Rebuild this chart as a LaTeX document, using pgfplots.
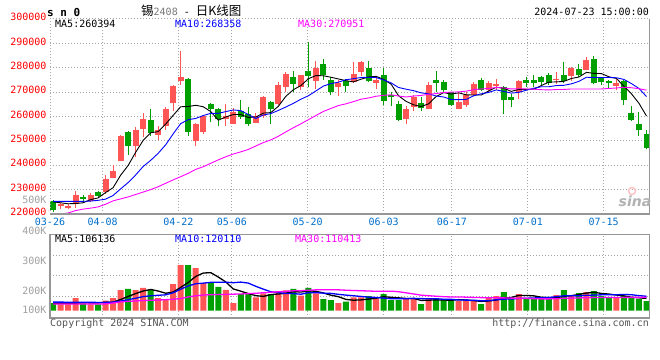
\documentclass[border=0pt]{standalone}
\usepackage{pgfplots}
\pgfplotsset{compat=1.18}
\usepackage{pgfplotstable}
\usepackage{fontspec}
\newfontfamily\mono{DejaVu Sans Mono}
\newfontfamily\cjk{Noto Sans CJK SC}
\newfontfamily\dvs{DejaVu Sans}
\newcommand\mf{\mono\fontsize{10bp}{12bp}\selectfont}

\definecolor{cred}{RGB}{255,85,85}
\definecolor{cgreen}{RGB}{0,160,0}
\definecolor{tickred}{RGB}{255,0,0}
\definecolor{dateblue}{RGB}{0,112,204}
\definecolor{gridc}{RGB}{165,165,165}
\definecolor{framec}{RGB}{150,150,150}
\definecolor{volgray}{RGB}{160,160,160}
\definecolor{ma10c}{RGB}{0,0,255}
\definecolor{ma30c}{RGB}{255,0,255}
\definecolor{copyc}{RGB}{85,85,85}
\definecolor{titlegray}{RGB}{120,120,120}

% up (red) candles: index open high low close
\pgfplotstableread{
i o h l c
1 223300 224500 222200 224000
2 222600 224100 222000 223400
3 224000 229400 222500 227900
5 225500 228700 225000 227900
7 229000 235800 228300 234500
8 234900 239900 234900 237700
9 241600 252500 241600 252200
11 248100 255600 243300 254500
12 254900 261500 251500 259000
14 252600 256300 250200 254500
15 256300 263800 254300 263100
16 265400 273100 262400 272700
17 274400 287000 273100 276400
19 249800 257200 247700 257000
20 253600 260300 252900 260100
23 258800 265200 256000 260400
24 257000 263400 257000 262000
27 257400 261400 257200 260000
28 260100 268400 259300 268200
30 265200 274000 264800 273000
31 272000 278100 269900 277400
33 272000 277200 270900 277000
35 274700 282900 271300 279800
38 272300 275000 268600 273600
40 274000 282200 273800 277400
41 278400 282700 276800 282500
43 273600 276100 271300 275100
47 259000 264500 257000 263100
48 263800 268900 262400 267900
50 263100 274300 262900 273000
54 263100 269900 262900 265900
55 264800 270200 263800 268900
56 268900 274300 268600 273400
58 270900 274700 270200 273600
59 272700 275400 271000 273400
62 269900 274900 267200 274700
67 275000 278400 273400 275400
69 276800 280500 274700 279900
71 279200 284500 279000 283200
75 272700 275400 271000 273800
}\upc

% down (green) candles
\pgfplotstableread{
i o h l c
0 225300 225900 220800 221500
4 227000 227900 224800 226300
6 229000 229300 227000 227400
10 253600 254000 244000 247700
13 258600 262900 252200 253200
18 275400 275600 252200 253800
21 265200 265400 257700 262900
22 262900 263400 256000 258800
25 262200 266800 259100 259700
26 261100 263800 256300 257000
29 265900 266500 257000 262900
32 276100 278800 270200 273400
34 278500 290700 272000 276500
36 281500 283600 275000 277000
37 275000 276100 268900 270200
39 274400 275400 270200 272700
42 279900 282900 274000 274700
44 277000 279800 264800 266500
45 268900 270200 264500 267900
46 265200 266500 258000 258400
49 265600 268200 262400 263400
51 275000 278800 270200 273800
52 274000 275000 269900 271000
53 269900 270200 264500 264800
57 275000 275700 270600 270900
60 272000 272700 261100 266900
61 268200 269300 264100 266900
63 275000 276400 272000 273800
64 275000 277000 272000 273800
65 276400 276800 272700 274300
66 277000 277900 273000 273800
68 277000 282500 273600 274700
70 279500 281500 276100 277200
72 283600 285000 273400 273600
73 275700 276100 273000 274000
74 274700 274900 271300 273600
76 274700 275000 264800 266900
77 261500 264200 258200 258400
78 257000 261800 252200 254500
79 252900 254300 246500 247200
}\downc

% price moving averages
\pgfplotstableread{
i m5 m10 m30
0 225000 225200 219700
1 224600 225200 220000
2 224200 225200 220400
3 224300 225200 221400
4 224600 225200 222000
5 225900 225300 222400
6 226600 225600 222900
7 228800 226100 224000
8 230800 227600 225400
9 235900 230300 226200
10 239900 232900 227000
11 245300 236000 228000
12 250200 239500 229000
13 253300 242000 230000
14 253800 244900 231200
15 256900 248400 232600
16 260500 252900 234000
17 264000 257100 235300
18 264100 258700 236700
19 264600 259200 238300
20 264000 260400 239400
21 262000 261300 240800
22 258500 261300 242200
23 259800 262000 243500
24 260800 262700 244600
25 260800 262400 245500
26 259600 260800 246500
27 259800 259200 247900
28 261400 260600 249300
29 261600 261200 250400
30 264200 262500 251900
31 268300 263900 253700
32 271000 265400 255400
33 272700 267100 257000
34 275500 268500 258700
35 276800 270500 260400
36 276700 272500 262100
37 276100 273500 263300
38 275400 274100 264500
39 274700 275100 265200
40 274200 275500 266100
41 275300 276000 267100
42 276200 276100 267600
43 276500 276000 268300
44 275200 275000 268700
45 273300 273800 268900
46 268500 271900 268400
47 266200 271200 268000
48 264800 270600 268400
49 264100 269700 268650
50 265200 269300 269100
51 268200 268400 269400
52 269800 268000 269850
53 269200 267000 270000
54 269700 266900 270100
55 268900 267000 270400
56 268800 268500 271000
57 268800 269300 271300
58 270500 269900 271500
59 272000 270900 271900
60 271600 270300 271700
61 270300 269600 271300
62 271100 269900 271400
63 271100 270800 271300
64 271200 271600 271200
65 272700 272200 271000
66 274100 272200 270900
67 274200 272700 271050
68 274400 272800 271100
69 275600 273400 271300
70 276200 274400 271300
71 278100 276100 271300
72 277700 276000 271300
73 277600 276000 271300
74 276300 276000 271500
75 275600 275900 271700
76 272400 275200 272000
77 269300 273500 271800
78 265400 271500 271400
79 260200 268200 270800
}\ma

% volumes (thousands), up days
\pgfplotstableread{
i v
1 57
2 57
3 115
5 57
7 91
8 115
9 187
11 187
12 206
14 115
15 97
16 242
17 414
19 387
20 251
23 190
24 69.5
27 121
28 157
30 178
31 184
33 136
35 157
38 69.5
40 121
41 121
43 106
47 106
48 106
50 106
54 88
55 88
56 88
58 115
59 133
62 151
67 142
69 142
71 169
75 115
}\volup

% volumes, down days
\pgfplotstableread{
i v
0 69.5
4 66.5
6 57
10 197
13 187
18 414
21 260
22 215
25 151
26 151
29 151
32 197
34 206
36 106
37 97
39 82
42 133
44 151
45 97
46 97
49 60
51 115
52 97
53 97
57 60
60 169
61 124
63 115
64 115
65 106
66 106
68 187
70 160
72 178
73 133
74 115
76 133
77 115
78 106
79 88
}\voldown

% volume moving averages
\pgfplotstableread{
i m5 m10 m30
0 66 78 60
1 66 78 60
2 66 77 60
3 68 77 60
4 73 76 60
5 70.5 76 60
6 70.5 75 60
7 77.3 75 62
8 77.3 78 70
9 101.4 87.2 80
10 129.4 100 85
11 155.4 113 88
12 178.4 127.9 92
13 192.8 135.1 95
14 178.4 139.9 97
15 158.4 143.9 100
16 169.4 162.4 104
17 211 194.7 110
18 256.4 224.6 125
19 310.8 244.6 135
20 341.6 250 142
21 345.2 257.3 145
22 305.4 258.2 147
23 260.6 258.5 148
24 197.1 254 150
25 177.1 259.4 152
26 155.3 250.3 155
27 136.5 221 158
28 129.9 195.3 163
29 146.2 171.7 167.8
30 151.6 164.4 171.4
31 158.2 156.8 175.7
32 173.4 155 180.3
33 169.2 149.6 181
34 180.2 163.2 185.7
35 176 163.8 189
36 160.4 159.3 190.7
37 140.4 156.9 190.9
38 127.1 148.2 189.3
39 102.3 141.3 185.8
40 95.1 135.6 183.3
41 98.1 129.3 181.1
42 105.3 122.9 178.7
43 112.6 119.9 176
44 126.4 114.4 177.2
45 121.6 108.4 177.2
46 116.8 107.5 172.3
47 111.4 108.4 162.1
48 111.4 112 151.8
49 93.2 109.8 140.9
50 95 108.3 136.1
51 98.6 107.7 131.2
52 96.8 104.1 127.3
53 95 103.2 124.2
54 100.6 96.9 124.8
55 97 96 122.7
56 91.6 95.1 120.6
57 84.2 90.5 118.6
58 87.8 91.4 117.2
59 96.8 98.7 116.6
60 113 105 116.3
61 120.2 105.9 114.3
62 138.4 111.3 112.8
63 138.4 113.1 112.1
64 134.8 115.8 109
65 122.2 117.6 107.3
66 118.6 119.4 107.3
67 116.8 127.6 108.8
68 131.2 134.8 112.7
69 136.6 135.7 114.7
70 147.4 134.8 116
71 160 139.3 117.6
72 167.2 142 119.1
73 156.4 143.8 120
74 151 143.8 118.8
75 142 144.7 119.4
76 134.8 147.4 120.6
77 122.2 144.7 120.9
78 116.8 136.6 120.9
79 111.4 131.2 121.9
}\vma

\pgfplotsset{
  sinaaxis/.style={
    scale only axis, width=599.5bp, anchor=south west,
    xmin=-0.4, xmax=79.4,
    axis line style={draw=none}, major tick length=0pt,
    xtick={-0.4,6.6,16.7,23.8,33.9,44.0,53.1,63.2,73.3},
    xmajorgrids, ymajorgrids,
    grid style={gridc, line width=1bp, dash pattern=on 1bp off 2bp},
  },
  wick/.style={only marks, mark=*, mark size=0pt, mark options={draw=none, fill=none}, forget plot,
    error bars/.cd, y dir=plus, y explicit, error mark=none,
    error bar style={draw=#1, solid, line width=1bp}},
  body/.style={only marks, mark=*, mark size=0pt, mark options={draw=none, fill=none}, forget plot,
    error bars/.cd, y dir=plus, y explicit, error mark=none,
    error bar style={draw=#1, solid, line width=6bp}},
}

\begin{document}
\begin{tikzpicture}
\fill[white] (0,0) rectangle (660bp,360bp);
\path[use as bounding box] (0,0) rectangle (660bp,360bp);

% ---------- price panel ----------
\begin{axis}[sinaaxis, at={(50bp,146bp)}, height=195bp,
  ymin=220000, ymax=300000, scaled y ticks=false,
  ytick={220000,230000,240000,250000,260000,270000,280000,290000,300000},
  yticklabels={220000,230000,240000,250000,260000,270000,280000,290000,300000},
  yticklabel style={font=\mf, text=tickred, anchor=east, inner sep=0pt, xshift=-3.3bp, yshift=2bp},
  xticklabels={03-26,04-08,04-22,05-06,05-20,06-03,06-17,07-01,07-15},
  xticklabel style={font=\mf, text=dateblue, anchor=center, inner sep=0pt, yshift=-7.5bp},
]
\addplot[wick=cred] table[x=i, y=l, y error plus expr=\thisrow{h}-\thisrow{l}] {\upc};
\addplot[wick=cgreen] table[x=i, y=l, y error plus expr=\thisrow{h}-\thisrow{l}] {\downc};
\addplot[body=cred] table[x=i, y=o, y error plus expr=\thisrow{c}-\thisrow{o}] {\upc};
\addplot[body=cgreen] table[x=i, y=c, y error plus expr=\thisrow{o}-\thisrow{c}] {\downc};
\addplot[black, line width=0.9bp, mark=none] table[x=i, y=m5] {\ma};
\addplot[ma10c, line width=0.9bp, mark=none] table[x=i, y=m10] {\ma};
\addplot[ma30c, line width=0.9bp, mark=none] table[x=i, y=m30] {\ma};
\end{axis}

% ---------- volume panel ----------
\begin{axis}[sinaaxis, at={(50bp,42bp)}, height=83.7bp,
  ymin=-66.2, ymax=693, scaled y ticks=false,
  ytick={130.6,317.5,498.9}, yticklabels={,,},
  xticklabels={,,,,,,,,},
]
\addplot[ybar, bar width=6bp, bar shift=0pt, fill=cred, draw=none] table[x=i, y=v] {\volup};
\addplot[ybar, bar width=6bp, bar shift=0pt, fill=cgreen, draw=none] table[x=i, y=v] {\voldown};
\addplot[black, line width=1.3bp, mark=none] table[x=i, y=m5] {\vma};
\addplot[ma10c, line width=1.3bp, mark=none] table[x=i, y=m10] {\vma};
\addplot[ma30c, line width=1.3bp, mark=none] table[x=i, y=m30] {\vma};
\end{axis}

% frames
\draw[framec, line width=1.5bp] (50bp,146bp) -- (649.5bp,146bp) -- (649.5bp,341bp);
\draw[gridc, line width=1bp, dash pattern=on 1bp off 2bp] (50bp,146bp) -- (50bp,341bp) -- (649.5bp,341bp);
\draw[framec, line width=1.5bp] (50bp,42bp) rectangle (649.5bp,125.7bp);

% header texts
\node[anchor=west, inner sep=0pt, font=\mono\bfseries\fontsize{11bp}{13bp}\selectfont] at (47bp,348bp) {s n 0};
\node[anchor=west, inner sep=0pt] at (141bp,349bp) {{\cjk\fontsize{12.5bp}{14bp}\selectfont 锡}{\color{titlegray}\mf 2408}{\mf\ -\ }{\cjk\fontsize{12.5bp}{14bp}\selectfont 日K线图}};
\node[anchor=east, inner sep=0pt, font=\mf] at (649bp,348bp) {2024-07-23 15:00:00};

\node[anchor=west, inner sep=0pt, font=\mf] at (55bp,336bp) {MA5:260394};
\node[anchor=west, inner sep=0pt, font=\mf, text=ma10c] at (175bp,336bp) {MA10:268358};
\node[anchor=west, inner sep=0pt, font=\mf, text=ma30c] at (298bp,336bp) {MA30:270951};

\node[anchor=west, inner sep=0pt, font=\mf] at (55bp,121.3bp) {MA5:106136};
\node[anchor=west, inner sep=0pt, font=\mf, text=ma10c] at (175bp,121.3bp) {MA10:120110};
\node[anchor=west, inner sep=0pt, font=\mf, text=ma30c] at (295bp,121.3bp) {MA30:110413};

% volume axis labels
\node[anchor=east, inner sep=0pt, font=\mf, text=volgray] at (46.7bp,160bp) {500K};
\node[anchor=east, inner sep=0pt, font=\mf, text=volgray] at (46.7bp,129bp) {400K};
\node[anchor=east, inner sep=0pt, font=\mf, text=volgray] at (46.7bp,99bp) {300K};
\node[anchor=east, inner sep=0pt, font=\mf, text=volgray] at (46.7bp,69bp) {200K};
\node[anchor=east, inner sep=0pt, font=\mf, text=volgray] at (46.7bp,50bp) {100K};

% footer
\node[anchor=west, inner sep=0pt, font=\mf, text=copyc] at (50bp,36.3bp) {Copyright 2024 SINA.COM};
\node[anchor=east, inner sep=0pt, font=\mf, text=copyc] at (649bp,36.3bp) {http://finance.sina.com.cn};

% watermark
\draw[cred!35, line width=1.5bp] (632bp,169bp) circle (3.5bp);
\node[inner sep=0pt, font=\dvs\bfseries\itshape\fontsize{14bp}{14bp}\selectfont, text=black!30] at (635bp,159bp) {sina};
\end{tikzpicture}
\end{document}
